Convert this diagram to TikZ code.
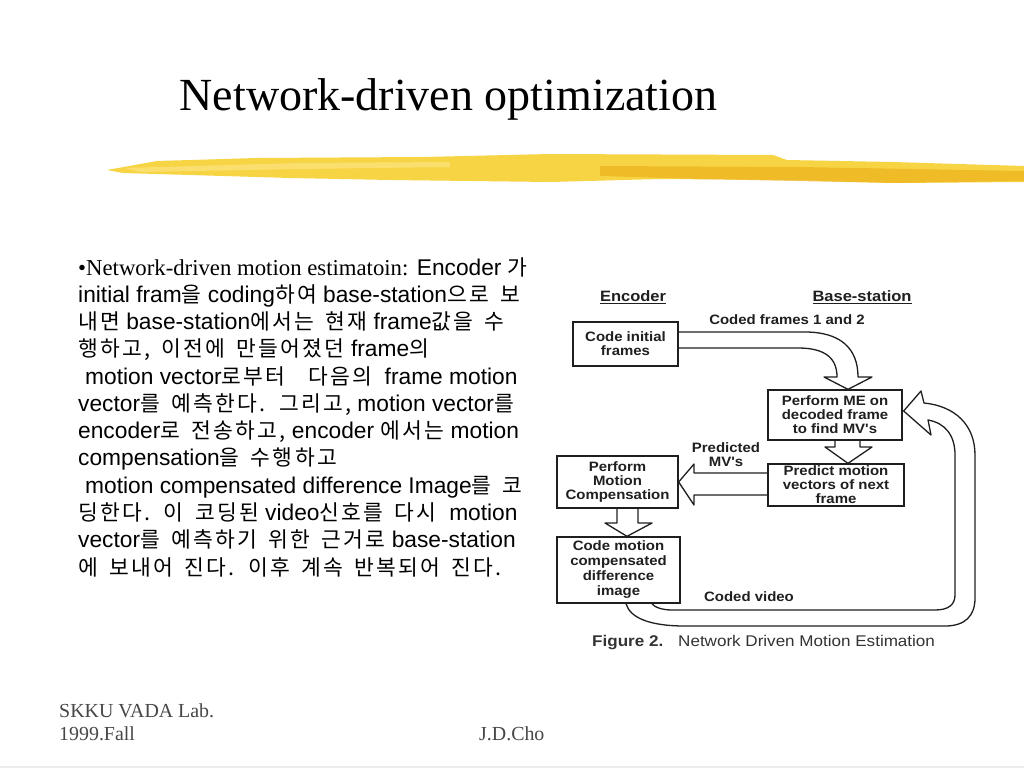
\documentclass[tikz,border=0pt]{standalone}
\usepackage{fontspec}
\setmainfont{Liberation Serif}
\newfontfamily\arial{Liberation Sans}
\newfontfamily\krfont[LetterSpace=10.5, WordSpace=1.6]{Noto Sans CJK KR}
\newfontfamily\diag[FakeStretch=1.1]{Liberation Sans}
\newcommand\hk[1]{{\krfont\fontsize{21.5}{27.3}\selectfont #1}}
\usetikzlibrary{calc}
\definecolor{ylA}{HTML}{F7D444}
\definecolor{ylB}{HTML}{EDB21C}
\definecolor{ylC}{HTML}{FBE27A}
\begin{document}
\begin{tikzpicture}[x=1pt,y=-1pt]
\tikzset{
 box/.style={draw=black!88, line width=1.3pt, inner sep=0pt, align=center, text=black!88, font=\diag\bfseries\fontsize{13.6}{14}\selectfont},
 lbl/.style={inner sep=0pt, align=center, text=black!88, font=\diag\bfseries\fontsize{13.6}{14}\selectfont},
 hdr/.style={inner sep=0pt, text=black!88, font=\diag\bfseries\fontsize{15}{16}\selectfont},
 capt/.style={inner sep=0pt, anchor=base west, text=black!80, font=\diag\fontsize{15.5}{17}\selectfont},
 fat/.style={draw=black!88, line width=1.3pt, line join=round},
 body/.style={inner sep=0pt, anchor=base west, font=\arial\fontsize{22.75}{27.3}\selectfont},
 foot/.style={inner sep=0pt, anchor=base west, text=black!72, font=\fontsize{19.9}{22}\selectfont},
}
\useasboundingbox (0,0) rectangle (1024,768);
\fill[white] (0,0) rectangle (1024,768);

% yellow brush stroke
\fill[ylA] (107,170) -- (157,161) -- (257,158) -- (423,157) -- (550,154) -- (773,155) -- (787,160) -- (893,162) -- (1024,166) -- (1024,182) -- (893,183) -- (793,180) -- (660,179) -- (550,182) -- (390,180) -- (290,178) -- (190,175) -- (123,173) -- cycle;
\fill[ylB, opacity=0.7] (600,166) -- (800,167) -- (1024,171) -- (1024,181) -- (893,183) -- (700,179) -- (600,176) -- cycle;
\fill[ylC, opacity=0.8] (125,168) -- (300,163) -- (450,162) -- (450,167) -- (300,169) -- (140,172) -- cycle;
\draw[gray!15, line width=1.5pt] (0,767) -- (1024,767);

% title
\node[inner sep=0pt, anchor=base, font=\fontsize{46}{50}\selectfont] (title) at (448.5,110) {Network-driven optimization};

% body text
\node[body] (l1) at (78,275) {{\rmfamily •Network-driven motion estimatoin:} Encoder \hk{가}};
\node[body] (l2) at (78,302.3) {initial fram\hk{을} coding\hk{하여} base-station\hk{으로 보}};
\node[body] (l3) at (78,329.5) {\hk{내면} base-station\hk{에서는 현재} frame\hk{값을 수}};
\node[body] (l4) at (78,356.8) {\hk{행하고, 이전에 만들어졌던} frame\hk{의}};
\node[body] (l5) at (78,384.1) {\hspace*{7pt}motion vector\hk{로부터\ \ 다음의}\ \ frame motion};
\node[body] (l6) at (78,411.4) {vector\hk{를 예측한다. 그리고,} motion vector\hk{를}};
\node[body] (l7) at (78,438.6) {encoder\hk{로 전송하고,} encoder \hk{에서는} motion};
\node[body] (l8) at (78,465.9) {compensation\hk{을 수행하고}};
\node[body] (l9) at (78,493.2) {\hspace*{7pt}motion compensated difference Image\hk{를 코}};
\node[body] (l10) at (78,520.4) {\hk{딩한다. 이 코딩된} video\hk{신호를 다시}\ \ motion};
\node[body] (l11) at (78,547.7) {vector\hk{를 예측하기 위한 근거로} base-station};
\node[body] (l12) at (78,575) {\hk{에 보내어 진다. 이후 계속 반복되어 진다.}};

% diagram boxes
\node[box, minimum width=105pt, minimum height=44pt] (cif) at (625.5,344) {Code initial\\frames};
\node[box, minimum width=134pt, minimum height=50pt] (pme) at (835,415) {Perform ME on\\decoded frame\\to find MV's};
\node[box, minimum width=136pt, minimum height=42pt] (pmv) at (836,485) {Predict motion\\vectors of next\\frame};
\node[box, minimum width=121pt, minimum height=52pt] (pmc) at (617.5,482) {Perform\\Motion\\Compensation};
\node[box, minimum width=123pt, minimum height=66pt, font=\diag\bfseries\fontsize{13.6}{15}\selectfont] (cmc) at (618.5,570) {Code motion\\compensated\\difference\\image};

% labels
\node[hdr] (enc) at (633,297) {\underline{Encoder}};
\node[hdr] (bs) at (862,297) {\underline{Base-station}};
\node[lbl] (cf) at (787,320) {Coded frames 1 and 2};
\node[lbl] (pm) at (726,455) {Predicted\\MV's};
\node[lbl] (cv) at (749,597) {Coded video};
\node[capt, font=\diag\bfseries\fontsize{15.5}{17}\selectfont] (fig) at (592,646) {Figure 2.};
\node[capt] (cap) at (678,646) {Network Driven Motion Estimation};

% fat arrows
\draw[fat] ($(cif.east)+(0,-12)$) -- (805,332) .. controls (840,332) and (858,348) .. (858,377) -- (872,377) -- ($(pme.north)+(13,0)$) -- (824,377) -- (837,377) .. controls (837,358) and (825,348) .. (798,348) -- ($(cif.east)+(0,4)$);
\draw[fat] (835,440) -- (835,447) -- (825,447) -- ($(pmv.north)+(12,0)$) -- (872,447) -- (860,447) -- (860,440);
\draw[fat] ($(pmv.west)+(0,-12)$) -- (694,473) -- (694,464) -- (pmc.east) -- (694,505) -- (694,495) -- ($(pmv.west)+(0,10)$);
\draw[fat] (617,508) -- (617,523) -- (605,523) -- ($(cmc.north)+(8.5,0)$) -- (652,523) -- (638,523) -- (638,508);
\draw[fat] ($(cmc.south)+(7.5,0)$) .. controls (630,618) and (650,626) .. (685,626) -- (945,626) .. controls (965,626) and (975,616) .. (975,598) -- (975,455) .. controls (975,425) and (955,406) .. (924,403) -- (921,391) -- ($(pme.east)+(1,-4)$) -- (931,435) -- (928,420) .. controls (945,423) and (955,435) .. (955,455) -- (955,595) .. controls (955,605) and (948,610) .. (935,610) -- (672,610) .. controls (662,610) and (654,607) .. ($(cmc.south)+(33.5,0)$);

% footer
\node[foot] (f1) at (59,717) {SKKU VADA Lab.};
\node[foot] (f2) at (59,740) {1999.Fall};
\node[foot] (f3) at (479,740) {J.D.Cho};
\end{tikzpicture}
\end{document}
